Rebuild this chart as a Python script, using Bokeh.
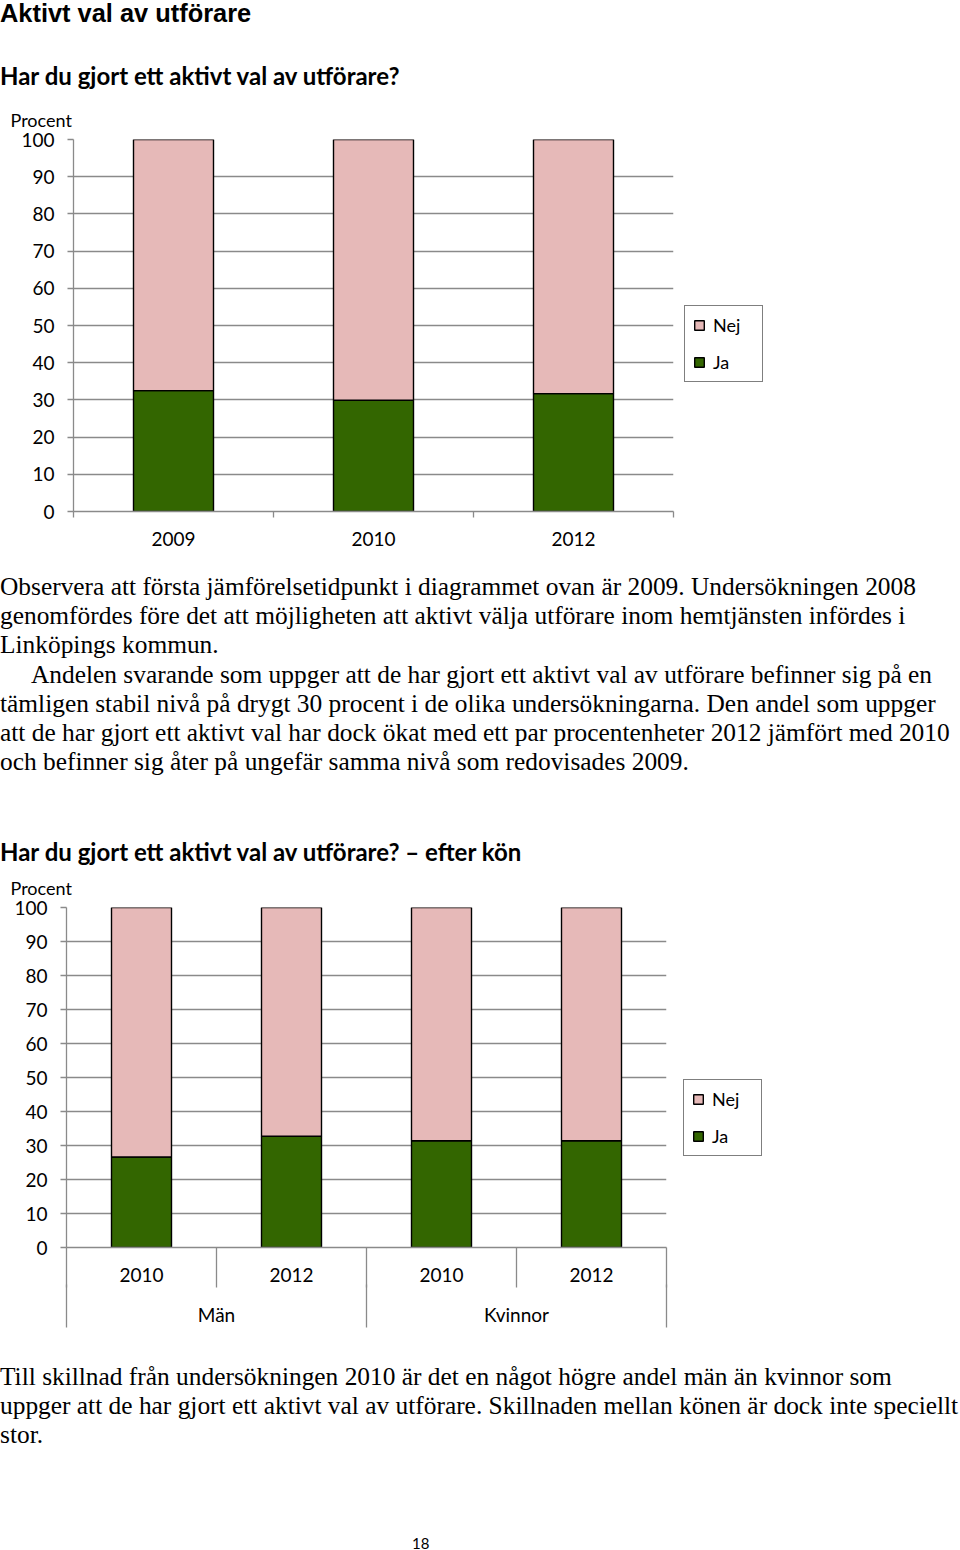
from bokeh.plotting import figure
from bokeh.models import Range1d, FixedTicker, LinearAxis, Legend, LegendItem, Div, ColumnDataSource
from bokeh.layouts import column
from bokeh.embed import file_html
from bokeh.resources import INLINE

# ---------------- data ----------------
years1 = ["2009", "2010", "2012"]
ja1 = [32.5, 29.9, 31.7]
nej1 = [67.5, 70.1, 68.3]

groups2 = ["Män", "Män", "Kvinnor", "Kvinnor"]
years2 = ["2010", "2012", "2010", "2012"]
ja2 = [26.6, 32.7, 31.4, 31.4]
nej2 = [73.4, 67.3, 68.6, 68.6]

y_ticks = [0, 10, 20, 30, 40, 50, 60, 70, 80, 90, 100]
series_labels = ["Ja", "Nej"]

PINK = "#E6B9B8"
GREEN = "#336600"
GRAY = "#8a8a8a"
CFONT = "Lato"


def base_chart(n, ja, nej, frame_w, frame_h, left, frame_left, right, bottom, legend_xy):
    p = figure(frame_width=frame_w, frame_height=frame_h,
               x_range=Range1d(0, n), y_range=Range1d(0, 100),
               min_border_left=left, min_border_right=right,
               min_border_top=30, min_border_bottom=bottom,
               output_backend="svg", toolbar_location=None,
               margin=(0, 0, 0, frame_left - left))
    p.outline_line_color = None
    p.background_fill_color = "white"
    p.border_fill_color = "white"
    x = [i + 0.5 for i in range(n)]
    src = ColumnDataSource(dict(x=x, Ja=ja, Nej=nej))
    rs = p.vbar_stack(series_labels, x="x", width=0.4, source=src,
                      fill_color=[GREEN, PINK], line_color="black", line_width=1.4)
    # y axis
    ya = p.yaxis[0]
    ya.ticker = FixedTicker(ticks=y_ticks)
    ya.major_tick_out = 6
    ya.major_tick_in = 0
    ya.minor_tick_out = 0
    ya.minor_tick_in = 0
    ya.major_tick_line_color = GRAY
    ya.axis_line_color = GRAY
    ya.axis_line_width = 1.3
    ya.major_tick_line_width = 1.3
    ya.major_label_standoff = 13
    ya.major_label_text_font = CFONT
    ya.major_label_text_font_size = "19px"
    ya.major_label_text_color = "black"
    p.ygrid.ticker = FixedTicker(ticks=y_ticks)
    p.ygrid.grid_line_color = GRAY
    p.ygrid.grid_line_width = 1.3
    p.xgrid.grid_line_color = None
    # title
    p.title.text = "Procent"
    p.title.align = "left"
    p.title.offset = -(frame_left - 10)
    p.title.text_font = CFONT
    p.title.text_font_style = "normal"
    p.title.text_font_size = "18px"
    p.title.text_color = "black"
    p.title.standoff = 18
    # legend
    leg = Legend(items=[LegendItem(label="Nej", renderers=[rs[1]]),
                        LegendItem(label="Ja", renderers=[rs[0]])],
                 location=legend_xy)
    leg.margin = 0
    leg.glyph_width = 12
    leg.glyph_height = 12
    leg.label_text_font = CFONT
    leg.label_text_font_size = "18px"
    leg.label_text_color = "black"
    leg.label_standoff = 8
    leg.label_width = 41
    leg.label_height = 20
    leg.padding = 8
    leg.spacing = 15
    leg.border_line_color = "black"
    leg.border_line_width = 1.3
    leg.background_fill_color = "white"
    leg.background_fill_alpha = 1
    p.add_layout(leg, "right")
    return p, x


def style_xaxis(ax, tick_out, standoff, minor_out, line_color):
    ax.major_tick_out = tick_out
    ax.major_tick_in = 0
    ax.major_tick_line_color = None
    ax.minor_tick_out = minor_out
    ax.minor_tick_in = 0
    ax.minor_tick_line_color = GRAY
    ax.minor_tick_line_width = 1.3
    ax.axis_line_color = line_color
    ax.axis_line_width = 1.3
    ax.major_label_standoff = standoff
    ax.major_label_text_font = CFONT
    ax.major_label_text_font_size = "19px"
    ax.major_label_text_color = "black"


# ---------------- chart 1 ----------------
p1, x1 = base_chart(len(years1), ja1, nej1, 600, 372, 73, 73, 107, 61, (11, 129))
ax1 = p1.xaxis[0]
ax1.ticker = FixedTicker(ticks=x1, minor_ticks=[float(i) for i in range(len(years1) + 1)])
ax1.major_label_overrides = {xv: lab for xv, lab in zip(x1, years1)}
style_xaxis(ax1, 0, 14, 6, GRAY)

# ---------------- chart 2 ----------------
p2, x2 = base_chart(len(years2), ja2, nej2, 601, 340, 73, 66, 113, 103, (17, 91))
axA = p2.xaxis[0]
axA.ticker = FixedTicker(ticks=x2, minor_ticks=[float(i) for i in range(len(years2) + 1)])
axA.major_label_overrides = {xv: lab for xv, lab in zip(x2, years2)}
style_xaxis(axA, 40, -20, 40, GRAY)

gnames = []
for g in groups2:
    if g not in gnames:
        gnames.append(g)
gcenters, gbounds = [], [0.0]
for g in gnames:
    idx = [i for i, gg in enumerate(groups2) if gg == g]
    gcenters.append((idx[0] + idx[-1] + 1) / 2)
    gbounds.append(float(idx[-1] + 1))
axB = LinearAxis(ticker=FixedTicker(ticks=gcenters, minor_ticks=gbounds),
                 major_label_overrides={c: g for c, g in zip(gcenters, gnames)})
style_xaxis(axB, 43, -25, 43, None)
p2.add_layout(axB, "below")

# ---------------- text blocks ----------------
SERIF = "font-family:'Liberation Serif';font-size:25.4px;color:#000;white-space:nowrap;"


def lines_html(lines, lh, indent_idx=()):
    out = []
    for i, ln in enumerate(lines):
        pad = "padding-left:31px;" if i in indent_idx else ""
        out.append(f'<div style="{SERIF}line-height:{lh}px;height:{lh}px;{pad}">{ln}</div>')
    return "".join(out)


H2 = "font-family:Lato;font-weight:bold;font-size:24px;line-height:30px;height:30px;color:#000;white-space:nowrap;"

head = Div(width=952, height=97, margin=0, text=(
    '<div style="font-family:\'Liberation Sans\';font-weight:bold;font-size:25.4px;line-height:26px;'
    'height:26px;color:#000;white-space:nowrap;">Aktivt val av utförare</div>'
    f'<div style="margin-top:35px;{H2}">Har du gjort ett aktivt val av utförare?</div>'))

para1 = [
    "Observera att första jämförelsetidpunkt i diagrammet ovan är 2009. Undersökningen 2008",
    "genomfördes före det att möjligheten att aktivt välja utförare inom hemtjänsten infördes i",
    "Linköpings kommun.",
    "Andelen svarande som uppger att de har gjort ett aktivt val av utförare befinner sig på en",
    "tämligen stabil nivå på drygt 30 procent i de olika undersökningarna. Den andel som uppger",
    "att de har gjort ett aktivt val har dock ökat med ett par procentenheter 2012 jämfört med 2010",
    "och befinner sig åter på ungefär samma nivå som redovisades 2009.",
]
mid = Div(width=952, height=293, margin=0, text=(
    lines_html(para1, 29.2, indent_idx=(3,)) +
    f'<div style="margin-top:61px;{H2}">Har du gjort ett aktivt val av utförare? – efter kön</div>'))

para2 = [
    "Till skillnad från undersökningen 2010 är det en något högre andel män än kvinnor som",
    "uppger att de har gjort ett aktivt val av utförare. Skillnaden mellan könen är dock inte speciellt",
    "stor.",
]
tail = Div(width=952, height=130, margin=0, text=(
    '<div style="height:11.5px"></div>' + lines_html(para2, 29.4)))

pagenum = Div(width=952, height=62, margin=0, text=(
    '<div style="margin-top:53px;padding-left:412px;font-family:Lato;font-size:15px;'
    'line-height:20px;color:#000;">18</div>'))

layout = column(head, p1, mid, p2, tail, pagenum, spacing=0)

with open("out.html", "w") as f:
    f.write(file_html(layout, INLINE))
